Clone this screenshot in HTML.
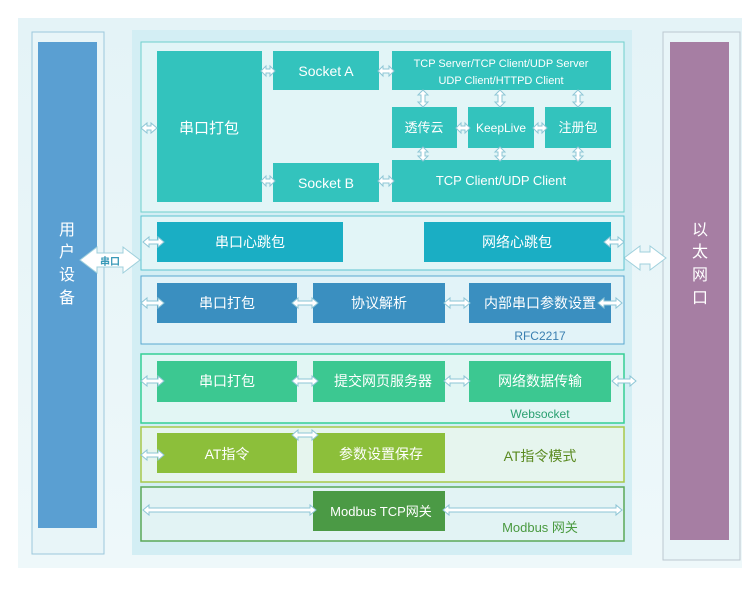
<!DOCTYPE html>
<html><head><meta charset="utf-8"><style>
html,body{margin:0;padding:0;background:#fff;width:750px;height:600px;overflow:hidden}
svg text{font-family:"Liberation Sans","Noto Sans CJK SC",sans-serif}
</style></head><body>
<svg width="750" height="600" viewBox="0 0 750 600" xmlns="http://www.w3.org/2000/svg">
<defs>
<linearGradient id="bg" x1="0" y1="0" x2="0" y2="1"><stop offset="0" stop-color="#e4f3f7"/><stop offset="1" stop-color="#eef8fa"/></linearGradient>
</defs>
<rect x="0" y="0" width="750" height="600" fill="#fff"/>
<rect x="18" y="18" width="724" height="550" fill="url(#bg)"/>
<rect x="132" y="30" width="500" height="525" fill="#d3eef4"/>
<rect x="32" y="32" width="72" height="522" fill="#e8f5f8" stroke="#9cc8dc" stroke-width="1"/>
<rect x="38" y="42" width="59" height="486" fill="#5a9fd2"/>
<g fill="#fff" font-size="16" text-anchor="middle"><text x="67" y="235">用</text><text x="67" y="257">户</text><text x="67" y="280">设</text><text x="67" y="303">备</text></g>
<rect x="663" y="32" width="77" height="528" fill="#e8f5f8" stroke="#bcc8d0" stroke-width="1"/>
<rect x="670" y="42" width="59" height="498" fill="#a67ea3"/>
<g fill="#fff" font-size="16" text-anchor="middle"><text x="700" y="235">以</text><text x="700" y="257">太</text><text x="700" y="280">网</text><text x="700" y="303">口</text></g>
<polygon points="80,260 97,247 97,253 123,253 123,247 140,260 123,273 123,267 97,267 97,273" fill="#fff" stroke="#9fd0dc"/>
<text x="110" y="265" font-size="10" fill="#3a9ab8" text-anchor="middle" font-weight="bold">串口</text>
<polygon points="624,258 640,246 640,252 650,252 650,246 666,258 650,270 650,264 640,264 640,270" fill="#fff" stroke="#9fd0dc"/>
<rect x="141" y="42" width="483" height="170" fill="#e2f5f7" stroke="#6fd0cc"/>
<g fill="#33c3bd">
<rect x="157" y="51" width="105" height="151"/>
<rect x="273" y="51" width="106" height="39"/>
<rect x="273" y="163" width="106" height="39"/>
<rect x="392" y="51" width="219" height="39"/>
<rect x="392" y="107" width="65" height="41"/>
<rect x="468" y="107" width="66" height="41"/>
<rect x="545" y="107" width="66" height="41"/>
<rect x="392" y="160" width="219" height="42"/>
</g>
<g fill="#fff" text-anchor="middle">
<text x="209" y="133" font-size="15">串口打包</text>
<text x="326" y="76" font-size="14">Socket A</text>
<text x="326" y="188" font-size="14">Socket B</text>
<text x="501" y="67" font-size="11">TCP Server/TCP Client/UDP Server</text>
<text x="501" y="84" font-size="11">UDP Client/HTTPD Client</text>
<text x="424" y="132" font-size="13">透传云</text>
<text x="501" y="132" font-size="12">KeepLive</text>
<text x="578" y="132" font-size="13">注册包</text>
<text x="501" y="185" font-size="13">TCP Client/UDP Client</text>
</g>
<rect x="141" y="216" width="483" height="54" fill="#e2f5f7" stroke="#5ec4d0"/>
<rect x="157" y="222" width="186" height="40" fill="#1aaec4"/>
<rect x="424" y="222" width="187" height="40" fill="#1aaec4"/>
<g fill="#fff" text-anchor="middle" font-size="14"><text x="250" y="247">串口心跳包</text><text x="517" y="247">网络心跳包</text></g>
<rect x="141" y="276" width="483" height="68" fill="#e2f3f8" stroke="#5aa8d0"/>
<g fill="#3a8fc0"><rect x="157" y="283" width="140" height="40"/><rect x="313" y="283" width="132" height="40"/><rect x="469" y="283" width="142" height="40"/></g>
<g fill="#fff" text-anchor="middle" font-size="14"><text x="227" y="308">串口打包</text><text x="379" y="308">协议解析</text><text x="540" y="308">内部串口参数设置</text></g>
<text x="540" y="340" font-size="12" fill="#3a7fb0" text-anchor="middle">RFC2217</text>
<rect x="141" y="354" width="483" height="69" fill="#e2f6f4" stroke="#35cf95" stroke-width="1.5"/>
<g fill="#3cc891"><rect x="157" y="361" width="140" height="41"/><rect x="313" y="361" width="132" height="41"/><rect x="469" y="361" width="142" height="41"/></g>
<g fill="#fff" text-anchor="middle" font-size="14"><text x="227" y="386">串口打包</text><text x="383" y="386">提交网页服务器</text><text x="540" y="386">网络数据传输</text></g>
<text x="540" y="418" font-size="12" fill="#2aa070" text-anchor="middle">Websocket</text>
<rect x="141" y="427" width="483" height="55" fill="#e6f5ee" stroke="#a8c84a" stroke-width="1.5"/>
<g fill="#8cbf3a"><rect x="157" y="433" width="140" height="40"/><rect x="313" y="433" width="132" height="40"/></g>
<g fill="#fff" text-anchor="middle" font-size="14"><text x="227" y="459">AT指令</text><text x="381" y="459">参数设置保存</text></g>
<text x="540" y="461" font-size="14" fill="#5a8a20" text-anchor="middle">AT指令模式</text>
<rect x="141" y="487" width="483" height="54" fill="#e2f3f4" stroke="#5aa858" stroke-width="1.5"/>
<rect x="313" y="491" width="132" height="40" fill="#4b9a45"/>
<text x="381" y="516" font-size="13" fill="#fff" text-anchor="middle">Modbus TCP网关</text>
<text x="540" y="532" font-size="13" fill="#4a9a40" text-anchor="middle">Modbus 网关</text>
<g fill="#fff" stroke="#8ec6d6" stroke-width="1">
<polygon points="141,128 147,123 147,126 151,126 151,123 157,128 151,133 151,130 147,130 147,133"/>
<polygon points="261,71 266,66 266,69 270,69 270,66 275,71 270,76 270,73 266,73 266,76"/>
<polygon points="261,181 266,176 266,179 270,179 270,176 275,181 270,186 270,183 266,183 266,186"/>
<polygon points="378,71 383,66 383,69 389,69 389,66 394,71 389,76 389,73 383,73 383,76"/>
<polygon points="378,181 383,176 383,179 389,179 389,176 394,181 389,186 389,183 383,183 383,186"/>
<polygon points="456,128 461,123 461,126 465,126 465,123 470,128 465,133 465,130 461,130 461,133"/>
<polygon points="533,128 538,123 538,126 542,126 542,123 547,128 542,133 542,130 538,130 538,133"/>
<polygon points="423,90 428,95 425,95 425,102 428,102 423,107 418,102 421,102 421,95 418,95"/>
<polygon points="500,90 505,95 502,95 502,102 505,102 500,107 495,102 498,102 498,95 495,95"/>
<polygon points="578,90 583,95 580,95 580,102 583,102 578,107 573,102 576,102 576,95 573,95"/>
<polygon points="423,147 428,152 425,152 425,156 428,156 423,161 418,156 421,156 421,152 418,152"/>
<polygon points="500,147 505,152 502,152 502,156 505,156 500,161 495,156 498,156 498,152 495,152"/>
<polygon points="578,147 583,152 580,152 580,156 583,156 578,161 573,156 576,156 576,152 573,152"/>
<polygon points="143,242 149,237 149,240 158,240 158,237 164,242 158,247 158,244 149,244 149,247"/>
<polygon points="604,242 610,237 610,240 618,240 618,237 624,242 618,247 618,244 610,244 610,247"/>
<polygon points="141,303 147,298 147,301 158,301 158,298 164,303 158,308 158,305 147,305 147,308"/>
<polygon points="292,303 298,298 298,301 312,301 312,298 318,303 312,308 312,305 298,305 298,308"/>
<polygon points="444,303 450,298 450,301 464,301 464,298 470,303 464,308 464,305 450,305 450,308"/>
<polygon points="598,303 604,298 604,301 616,301 616,298 622,303 616,308 616,305 604,305 604,308"/>
<polygon points="141,381 147,376 147,379 158,379 158,376 164,381 158,386 158,383 147,383 147,386"/>
<polygon points="292,381 298,376 298,379 312,379 312,376 318,381 312,386 312,383 298,383 298,386"/>
<polygon points="444,381 450,376 450,379 464,379 464,376 470,381 464,386 464,383 450,383 450,386"/>
<polygon points="612,381 618,376 618,379 630,379 630,376 636,381 630,386 630,383 618,383 618,386"/>
<polygon points="141,455 147,450 147,453 158,453 158,450 164,455 158,460 158,457 147,457 147,460"/>
<polygon points="292,435 298,430 298,433 312,433 312,430 318,435 312,440 312,437 298,437 298,440"/>
<polygon points="143,510 149,505 149,508 310,508 310,505 316,510 310,515 310,512 149,512 149,515"/>
<polygon points="443,510 449,505 449,508 616,508 616,505 622,510 616,515 616,512 449,512 449,515"/>
</g>
</svg>
</body></html>
